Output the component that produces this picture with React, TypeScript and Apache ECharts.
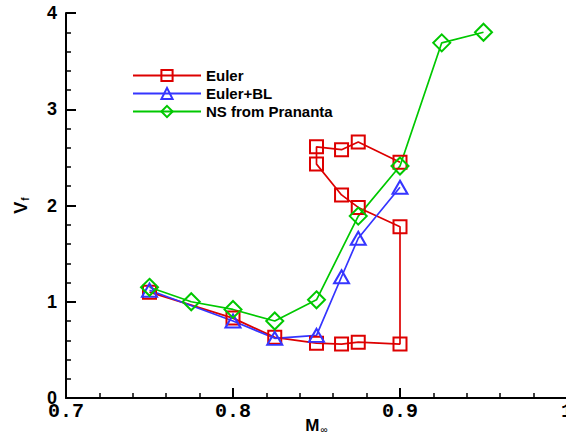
import React, { useEffect, useRef } from "react";
import * as echarts from "echarts";

// Flutter speed index V_f versus free-stream Mach number
const eulerMach = [0.75, 0.8, 0.825, 0.85, 0.865, 0.875, 0.9, 0.9, 0.875, 0.865, 0.85, 0.85, 0.865, 0.875, 0.9];
const eulerVf = [1.10, 0.83, 0.63, 0.57, 0.56, 0.58, 0.56, 1.78, 1.98, 2.11, 2.43, 2.61, 2.58, 2.66, 2.45];

const eulerBLMach = [0.75, 0.8, 0.825, 0.85, 0.865, 0.875, 0.9];
const eulerBLVf = [1.12, 0.80, 0.62, 0.65, 1.26, 1.66, 2.19];

const nsMach = [0.75, 0.775, 0.8, 0.825, 0.85, 0.875, 0.9, 0.925, 0.95];
const nsVf = [1.15, 1.00, 0.92, 0.80, 1.02, 1.89, 2.41, 3.69, 3.80];

const seriesNames = ["Euler", "Euler+BL", "NS from Prananta"];

const RED = "#dd0000";
const BLUE = "#3535ff";
const GREEN = "#00c800";

const zip = (xs: number[], ys: number[]) => xs.map((x, i) => [x, ys[i]]);

export default function App() {
  const ref = useRef<HTMLDivElement>(null);

  useEffect(() => {
    if (!ref.current) return;
    const chart = echarts.init(ref.current, undefined, { renderer: "svg" });

    const mkSeries = (
      name: string,
      data: number[][],
      color: string,
      symbol: string,
      symbolSize: number | number[]
    ) => ({
      name,
      type: "line",
      data,
      symbol,
      symbolSize,
      showAllSymbol: true,
      lineStyle: { color, width: 1.7 },
      itemStyle: { color: "transparent", borderColor: color, borderWidth: 2 },
      emphasis: { disabled: true },
    });

    chart.setOption({
      animation: false,
      grid: { left: 66, width: 501, top: 13, bottom: 37, outerBoundsMode: "none", containLabel: false },
      legend: {
        orient: "vertical",
        left: 127,
        top: 63,
        itemWidth: 68,
        itemHeight: 14,
        itemGap: 3,
        data: seriesNames,
        textStyle: {
          fontFamily: "Liberation Sans, Arial, sans-serif",
          fontWeight: "bold",
          fontSize: 15,
          color: "#000",
          padding: [0, 0, 0, 0],
        },
      },
      xAxis: {
        type: "value",
        min: 0.7,
        max: 1,
        interval: 0.1,
        name: "{m|M}{s|∞}",
        nameLocation: "middle",
        nameGap: 18,
        nameMoveOverlap: false,
        nameTextStyle: {
          rich: {
            m: { fontFamily: "Liberation Sans, Arial, sans-serif", fontWeight: "bold", fontSize: 17, color: "#000" },
            s: { fontFamily: "Liberation Sans, Arial, sans-serif", fontSize: 10, color: "#000", verticalAlign: "bottom", padding: [8, 0, 0, 1] },
          },
        },
        axisLine: { show: true, lineStyle: { color: "#000", width: 2 } },
        axisTick: { show: true, inside: true, length: 10, lineStyle: { color: "#000", width: 2 } },
        minorTick: { show: true, splitNumber: 5, length: 5, lineStyle: { color: "#000", width: 1.5 } },
        splitLine: { show: false },
        axisLabel: {
          margin: 3,
          fontFamily: "Liberation Mono, Courier New, monospace",
          fontWeight: "bold",
          fontSize: 20,
          color: "#000",
          formatter: (v: number) => (Math.abs(v - 1) < 1e-9 ? "1" : v.toFixed(1)),
        },
      },
      yAxis: {
        type: "value",
        min: 0,
        max: 4,
        interval: 1,
        name: "{v|V}{s|f}",
        nameLocation: "middle",
        nameRotate: 90,
        nameGap: 36,
        nameMoveOverlap: false,
        nameTextStyle: {
          rich: {
            v: { fontFamily: "Liberation Sans, Arial, sans-serif", fontWeight: "bold", fontSize: 18, color: "#000" },
            s: { fontFamily: "Liberation Sans, Arial, sans-serif", fontWeight: "bold", fontSize: 10, color: "#000", verticalAlign: "bottom", padding: [6, 0, 0, 1] },
          },
        },
        axisLine: { show: true, lineStyle: { color: "#000", width: 2 } },
        axisTick: { show: true, inside: true, length: 10, lineStyle: { color: "#000", width: 2 } },
        minorTick: { show: true, splitNumber: 5, length: 5, lineStyle: { color: "#000", width: 1.5 } },
        splitLine: { show: false },
        axisLabel: {
          margin: 9,
          fontFamily: "Liberation Sans, Arial, sans-serif",
          fontWeight: "bold",
          fontSize: 18,
          color: "#000",
        },
      },
      series: [
        mkSeries(seriesNames[0], zip(eulerMach, eulerVf), RED, "rect", 13),
        mkSeries(seriesNames[1], zip(eulerBLMach, eulerBLVf), BLUE, "triangle", [15, 13]),
        mkSeries(seriesNames[2], zip(nsMach, nsVf), GREEN, "diamond", 17),
      ],
    });

    return () => chart.dispose();
  }, []);

  return (
    <div
      ref={ref}
      style={{ position: "absolute", left: 0, top: 0, width: 566, height: 435, background: "#fff" }}
    />
  );
}
